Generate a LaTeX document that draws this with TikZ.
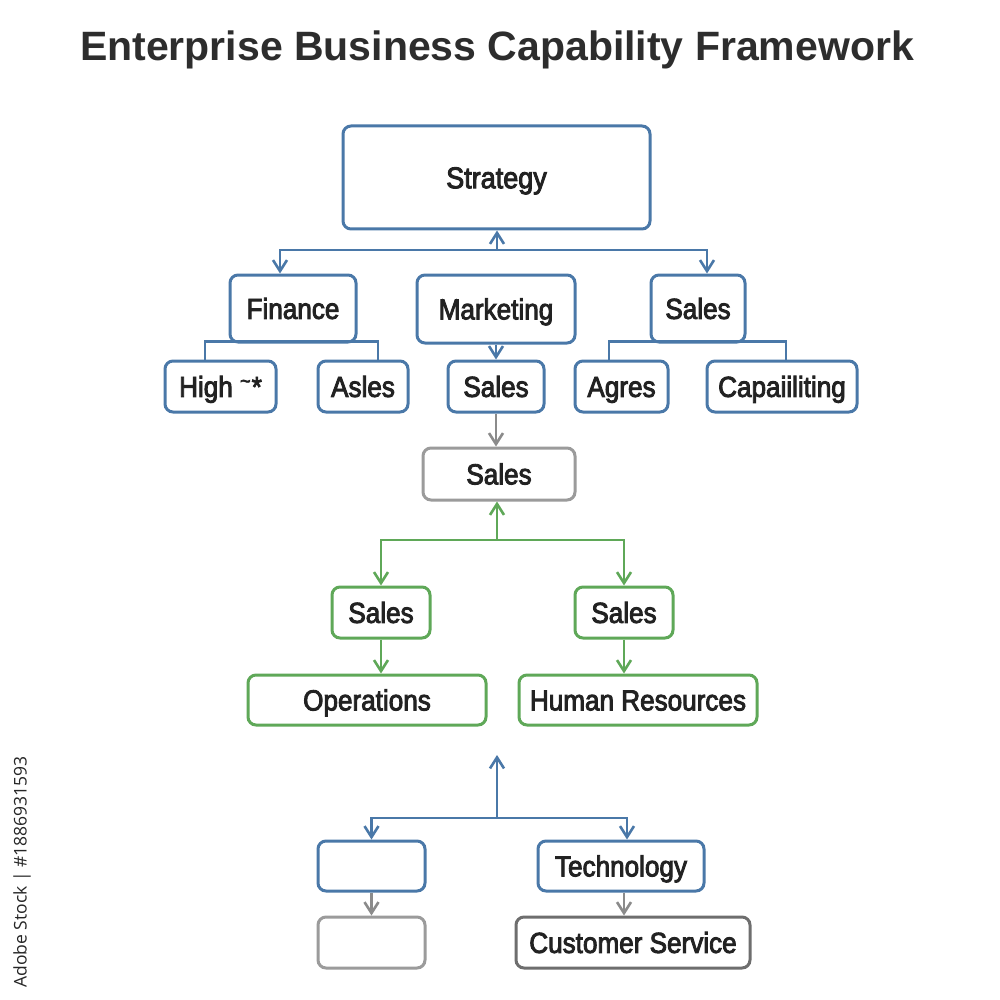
\documentclass[tikz,border=0pt]{standalone}
\usepackage{fontspec}
\setmainfont{Liberation Sans}
\newfontfamily\nodefont{Liberation Sans}[FakeStretch=0.9, FakeBold=3]
\newfontfamily\titlefont{Liberation Sans Bold}
\newfontfamily\wmfont{Open Sans}
\usetikzlibrary{arrows.meta}
\definecolor{cblue}{HTML}{4A78A8}
\definecolor{cgreen}{HTML}{5FA858}
\definecolor{cgray}{HTML}{9B9B9B}
\definecolor{cdgray}{HTML}{6E6E6E}
\definecolor{ctext}{HTML}{222222}
\begin{document}
\begin{tikzpicture}[x=1pt,y=-1pt,
  box/.style={draw, line width=3pt, rounded corners=8pt, fill=white, inner sep=0pt,
    text=ctext, text height=20.8pt, text depth=0pt,
    font=\nodefont\fontsize{29}{33}\selectfont},
  bbox/.style={box, draw=cblue},
  gbox/.style={box, draw=cgreen},
  ybox/.style={box, draw=cgray},
  dbox/.style={box, draw=cdgray},
  conn/.style={line width=2.6pt},
  arr/.style={conn, -{Straight Barb[length=11pt,width=14pt,line width=2.6pt]}},
  barr/.style={arr, draw=cblue},
  garr/.style={arr, draw=cgreen},
  yarr/.style={arr, draw=cgray!90!black},
  bline/.style={conn, draw=cblue}
]
\useasboundingbox (0,0) rectangle (1000,1000);
\fill[white] (0,0) rectangle (1000,1000);

\node[font=\titlefont\fontsize{41}{48}\selectfont, text=ctext!95!white] (title) at (497,50) {Enterprise Business Capability Framework};

\node[rotate=90, font=\wmfont\fontsize{17.5}{20}\selectfont, text=black!85] (wm) at (22,872) {Adobe Stock | \#1886931593};

% top level
\node[bbox, minimum width=307pt, minimum height=103pt, font=\nodefont\fontsize{30}{34}\selectfont, text height=21.5pt] (strategy) at (496.5,177.5) {Strategy};
\node[bbox, minimum width=126pt, minimum height=67pt] (finance) at (293,308.5) {Finance};
\node[bbox, minimum width=158pt, minimum height=68pt] (marketing) at (496,309) {Marketing};
\node[bbox, minimum width=94pt, minimum height=67pt] (salesT) at (698,308.5) {Sales};

\node[bbox, minimum width=111pt, minimum height=51pt] (high) at (220.5,386.5) {High \raisebox{9pt}{\scalebox{0.7}{\textasciitilde}}\kern1pt*};
\node[bbox, minimum width=90pt, minimum height=51pt] (asles) at (363,386.5) {Asles};
\node[bbox, minimum width=96pt, minimum height=51pt] (salesM) at (496,386.5) {Sales};
\node[bbox, minimum width=93pt, minimum height=51pt] (agres) at (621.5,386.5) {Agres};
\node[bbox, minimum width=150pt, minimum height=51pt] (capa) at (782,386.5) {Capaiiliting};

\node[ybox, minimum width=152pt, minimum height=52pt] (salesC) at (499,474) {Sales};

\node[gbox, minimum width=98pt, minimum height=51pt] (gs1) at (381,612.5) {Sales};
\node[gbox, minimum width=98pt, minimum height=51pt] (gs2) at (624,612.5) {Sales};
\node[gbox, minimum width=238pt, minimum height=50pt] (ops) at (367,700) {Operations};
\node[gbox, minimum width=238pt, minimum height=50pt] (hr) at (638,700) {Human Resources};

\node[bbox, minimum width=107pt, minimum height=50pt] (e1) at (371.5,866) {};
\node[bbox, minimum width=166pt, minimum height=50pt] (tech) at (621,866) {Technology};
\node[ybox, minimum width=107pt, minimum height=51pt] (e2) at (371.5,942.5) {};
\node[dbox, minimum width=234pt, minimum height=51pt] (cs) at (633,942.5) {Customer Service};

% connectors top
\coordinate (j1) at (497,250);
\draw[barr] (j1) -- (j1 |- strategy.south);
\draw[barr] (j1) -| ([xshift=-13pt]finance.north);
\draw[barr] (j1) -| ([xshift=9pt]salesT.north);

\draw[bline] ([xshift=-15.5pt]high.north) -- ++(0,-18) -| ([xshift=15pt]asles.north);
\draw[bline] ([xshift=-12.5pt]agres.north) -- ++(0,-18) -| ([xshift=4pt]capa.north);
\draw[barr] (marketing.south) -- (salesM.north);

\draw[yarr] (salesM.south) -- (salesM.south |- salesC.north);

% green
\coordinate (j2) at (497,540);
\draw[garr] (j2) -- (j2 |- salesC.south);
\draw[garr] (j2) -| (gs1.north);
\draw[garr] (j2) -| (gs2.north);
\draw[garr] (gs1.south) -- (gs1.south |- ops.north);
\draw[garr] (gs2.south) -- (gs2.south |- hr.north);

% bottom
\coordinate (j3) at (497,818);
\coordinate (t3) at (497,755);
\draw[barr] (j3) -- (t3);
\draw[barr] (j3) -| (e1.north);
\draw[barr] (j3) -| ([xshift=6pt]tech.north);
\draw[yarr] (e1.south) -- (e2.north);
\draw[yarr] ([xshift=3pt]tech.south) -- ([xshift=3pt]tech.south |- cs.north);
\end{tikzpicture}
\end{document}
